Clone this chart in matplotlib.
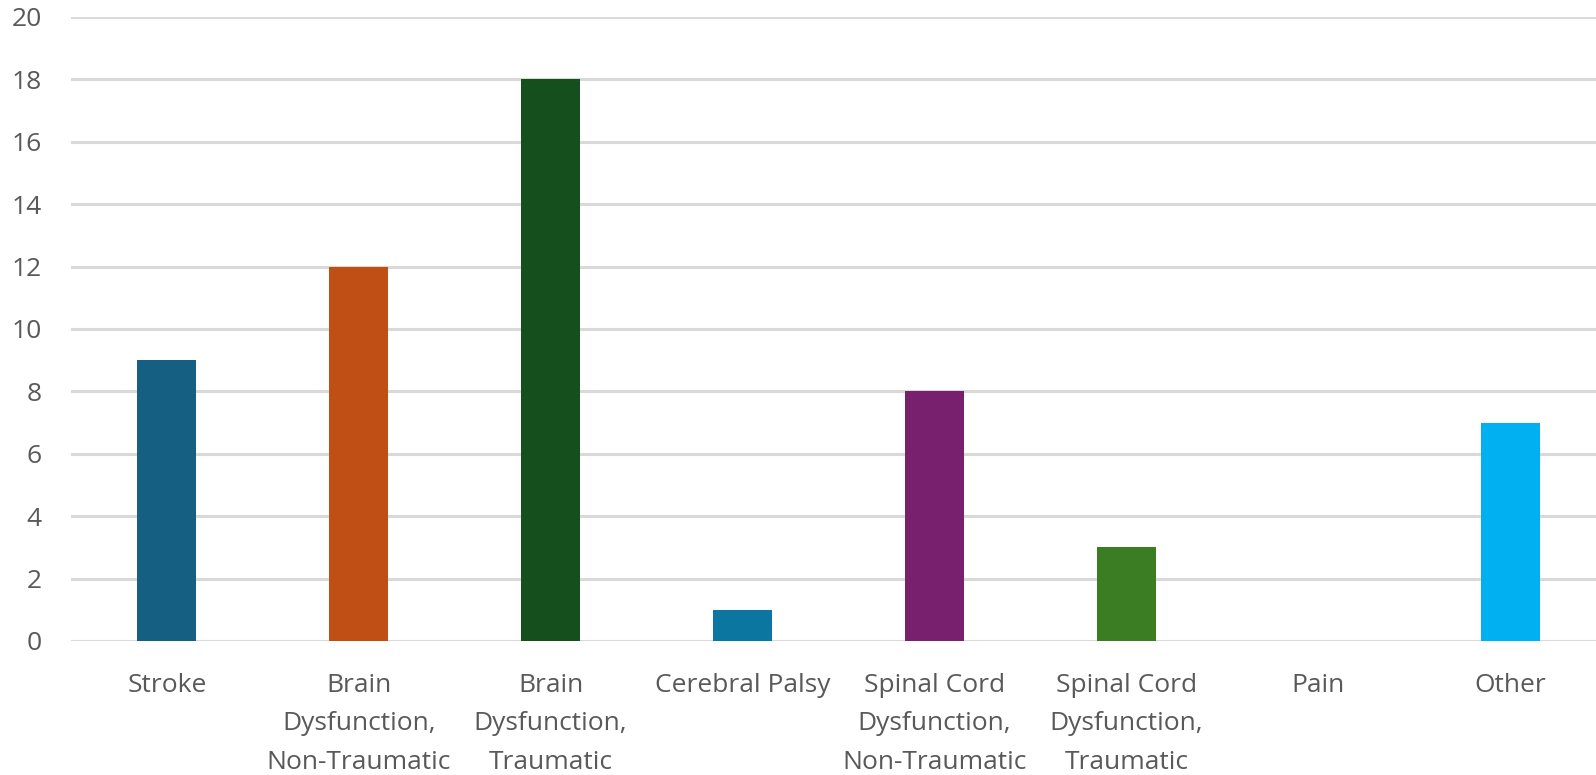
import matplotlib
matplotlib.use('Agg')
from matplotlib import pyplot as plt

# data
categories = ['Stroke', 'Brain\nDysfunction,\nNon-Traumatic', 'Brain\nDysfunction,\nTraumatic',
              'Cerebral Palsy', 'Spinal Cord\nDysfunction,\nNon-Traumatic',
              'Spinal Cord\nDysfunction,\nTraumatic', 'Pain', 'Other']
counts = [9, 12, 18, 1, 8, 3, 0, 7]
bar_colors = ['#156082', '#C04F15', '#154F1D', '#0B76A0', '#78206E', '#3B7D23', '#4EA72E', '#00B0F0']
y_ticks = [0, 2, 4, 6, 8, 10, 12, 14, 16, 18, 20]

W, H = 1596, 775
fig = plt.figure(figsize=(W / 100, H / 100), dpi=100)
# axes spans 71..1606 px horizontally (runs past the right edge like the source)
ax = fig.add_axes([71 / W, (H - 641) / H, 1535 / W, (641 - 17) / H])

x = list(range(len(categories)))
ax.bar(x, counts, width=0.307, color=bar_colors, zorder=3)

ax.set_xlim(-0.5, len(categories) - 0.5)
ax.set_ylim(0, 20)
ax.set_yticks(y_ticks)
ax.yaxis.grid(True, color='#D9D9D9', linewidth=2.2, zorder=0)
ax.set_axisbelow(True)
for s in ax.spines.values():
    s.set_visible(False)

ax.set_xticks(x)
ax.set_xticklabels(categories, linespacing=1.7)
ax.tick_params(axis='both', length=0, labelcolor='#595959', labelsize=19)
ax.tick_params(axis='x', pad=23)
ax.tick_params(axis='y', pad=21)
for lbl in ax.get_xticklabels() + ax.get_yticklabels():
    lbl.set_fontfamily('Open Sans')

fig.savefig('out.png', dpi=100)
